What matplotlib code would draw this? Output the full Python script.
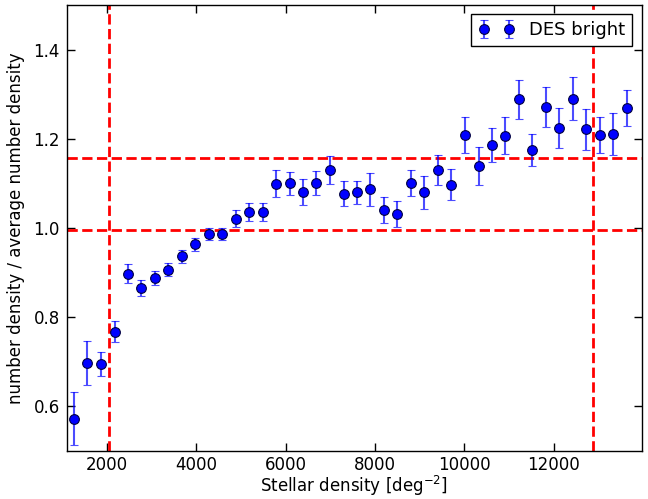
import matplotlib
matplotlib.use("Agg")
import matplotlib.pyplot as plt

stellar_density = [1260, 1560, 1860, 2170, 2470, 2770, 3070, 3370, 3670, 3980,
                   4280, 4580, 4880, 5180, 5490, 5790, 6090, 6390, 6690, 6990,
                   7300, 7600, 7900, 8200, 8500, 8810, 9110, 9410, 9710, 10010,
                   10320, 10620, 10920, 11220, 11520, 11830, 12130, 12430, 12730, 13030,
                   13340, 13640]
ratio = [0.572, 0.696, 0.694, 0.767, 0.897, 0.865, 0.888, 0.906, 0.936, 0.963,
         0.986, 0.986, 1.020, 1.036, 1.036, 1.099, 1.100, 1.080, 1.100, 1.130,
         1.076, 1.080, 1.086, 1.040, 1.031, 1.100, 1.080, 1.130, 1.097, 1.208,
         1.139, 1.186, 1.207, 1.288, 1.174, 1.271, 1.223, 1.290, 1.221, 1.208,
         1.211, 1.269]
ratio_err = [0.060, 0.049, 0.027, 0.024, 0.022, 0.018, 0.016, 0.014, 0.014, 0.014,
             0.014, 0.014, 0.019, 0.020, 0.020, 0.030, 0.026, 0.029, 0.027, 0.031,
             0.028, 0.026, 0.037, 0.029, 0.030, 0.029, 0.037, 0.033, 0.035, 0.040,
             0.042, 0.038, 0.041, 0.043, 0.036, 0.045, 0.045, 0.048, 0.046, 0.040,
             0.047, 0.040]
hlines = [1.157, 0.994]
vlines = [2040, 12890]
series_label = "DES bright"

fig = plt.figure(figsize=(6.48, 4.99), dpi=100)
ax = fig.add_axes([0.103, 0.097, 0.887, 0.893])

eb = ax.errorbar(stellar_density, ratio, yerr=ratio_err, fmt='o', color='blue',
                 markersize=7, markeredgecolor='#000040', markeredgewidth=0.8,
                 ecolor='blue', elinewidth=1.5, capsize=3, capthick=1.2,
                 label=series_label, zorder=3)
for bar in eb[2]:
    bar.set_alpha(0.7)
for cap in eb[1]:
    cap.set_alpha(0.7)

for h in hlines:
    ax.axhline(h, color='red', linestyle='--', linewidth=2, zorder=2)
for v in vlines:
    ax.axvline(v, color='red', linestyle='--', linewidth=2, zorder=2)

ax.set_xlim(1100, 13970)
ax.set_ylim(0.5, 1.5)
ax.set_xticks([2000, 4000, 6000, 8000, 10000, 12000])
ax.set_yticks([0.6, 0.8, 1.0, 1.2, 1.4])
ax.tick_params(direction='in', top=True, right=True, length=6, width=1,
               labelsize=12)
ax.tick_params(axis='x', pad=4)
ax.tick_params(axis='y', pad=5)
for s in ax.spines.values():
    s.set_linewidth(1)
ax.set_xlabel(r"Stellar density [deg$^{-2}$]", fontsize=12, labelpad=0)
ax.set_ylabel("number density / average number density", fontsize=12, labelpad=6)

leg = ax.legend(loc='upper right', numpoints=2, fontsize=13, fancybox=False,
                framealpha=1, edgecolor='black', borderaxespad=0.5)
leg.get_frame().set_linewidth(1)

fig.savefig("out.png", dpi=100)
